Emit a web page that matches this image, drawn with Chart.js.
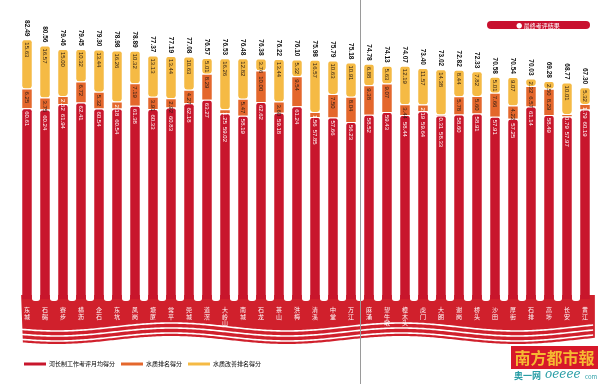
<!DOCTYPE html>
<html>
<head>
<meta charset="utf-8">
<script src="https://cdn.jsdelivr.net/npm/chart.js@4.4.0/dist/chart.umd.min.js"></script>
<style>
html, body { margin: 0; padding: 0; background: #fff; }
canvas { display: block; }
</style>
</head>
<body>
<canvas id="chart" width="600" height="384"></canvas>
<script>
// 镇街（从左到右，按最终得分排序）
const towns = ['东城','石碣','寮步','横沥','企石','东坑','凤岗','塘厦','常平','莞城','道滘','大岭山','南城','石龙','茶山','洪梅','清溪','中堂','万江',
               '麻涌','望牛墩','樟木头','虎门','大朗','谢岗','桥头','沙田','厚街','石排','高埗','长安','黄江'];

// 河长制工作考评月均得分（红）
const riverChief = [60.61,60.24,61.94,62.41,60.54,60.54,61.38,60.33,60.83,62.18,63.27,59.02,58.19,62.62,59.18,61.24,57.85,57.66,56.23,
                    58.52,59.43,58.44,59.64,58.33,58.60,58.91,57.91,57.25,61.14,58.49,57.97,60.19];
// 水质排名得分（橙）
const waterRank = [6.25,3.75,2.52,6.72,5.32,2.18,7.19,3.91,2.92,4.27,8.29,1.25,5.47,10.00,3.60,9.54,1.56,7.50,8.04,
                   9.38,9.07,3.44,2.19,0.31,5.78,5.60,7.66,4.22,6.57,8.29,0.79,1.79];
// 水质改善排名得分（黄）
const waterImprove = [15.63,16.57,15.00,10.32,13.44,16.26,10.32,13.13,13.44,10.63,5.01,16.26,12.82,3.76,13.44,5.32,16.57,10.63,10.91,
                      6.88,5.63,12.19,11.57,14.38,8.44,7.82,5.01,9.07,2.32,2.50,10.01,5.32];
// 最终考评结果
const totals = [82.49,80.56,79.46,79.45,79.30,78.98,78.89,77.37,77.19,77.08,76.57,76.53,76.48,76.38,76.22,76.10,75.98,75.79,75.18,
                74.78,74.13,74.07,73.40,73.02,72.82,72.33,70.58,70.54,70.03,69.28,68.77,67.30];

const seriesNames = ['河长制工作考评月均得分', '水质排名得分', '水质改善排名得分'];
const seriesColors = ['#c8162c', '#e4672c', '#f5ba44'];
const bandRed = '#d0202c';
const numFont = '"Liberation Sans Narrow", "Liberation Sans", Arial, sans-serif';
const cjkFont = '"Noto Sans CJK SC", "Noto Sans", sans-serif';

// 底部红色波浪带 + 柱间白色缺口
const bandPlugin = {
  id: 'band',
  beforeDraw(chart) {
    const ctx = chart.ctx;
    const bars = chart.getDatasetMeta(0).data;
    const x0 = bars[0].x - bars[0].width / 2 - 1;
    const x1 = bars[bars.length - 1].x + bars[0].width / 2 + 5;
    const top = chart.chartArea.bottom - 4;
    const wave = x => Math.sin((x - x0) / 230 * Math.PI * 2 + 0.6) * 4;
    ctx.save();
    ctx.fillStyle = bandRed;
    ctx.beginPath();
    ctx.moveTo(x0, top);
    ctx.lineTo(x1, top);
    for (let x = x1; x >= x0; x -= 2) ctx.lineTo(x, 340 + wave(x));
    ctx.closePath();
    ctx.fill();
    // 白色波浪线
    ctx.strokeStyle = '#fff';
    ctx.lineWidth = 1.6;
    [327, 332, 337].forEach(base => {
      ctx.beginPath();
      for (let x = x0; x <= x1; x += 2) {
        if (x === x0) ctx.moveTo(x, base + wave(x)); else ctx.lineTo(x, base + wave(x));
      }
      ctx.stroke();
    });
    // 柱与柱之间的圆角缺口
    ctx.fillStyle = '#fff';
    for (let i = 0; i < bars.length - 1; i++) {
      const l = bars[i].x + bars[i].width / 2;
      const r = bars[i + 1].x - bars[i + 1].width / 2;
      ctx.beginPath();
      ctx.roundRect(l, top - 4, r - l, 10, [0, 0, 3, 3]);
      ctx.fill();
    }
    ctx.restore();
  }
};

// 各段数值 + 总分
const valuePlugin = {
  id: 'values',
  afterDatasetsDraw(chart) {
    const ctx = chart.ctx;
    const n = towns.length;
    ctx.save();
    ctx.textAlign = 'left';
    ctx.textBaseline = 'middle';
    for (let i = 0; i < n; i++) {
      const redTop = chart.getDatasetMeta(0).data[i].y;
      let prevEnd = -Infinity;
      ctx.font = '6px ' + numFont;
      for (let d = 2; d >= 0; d--) {
        const bar = chart.getDatasetMeta(d).data[i];
        const txt = chart.data.datasets[d].data[i].toFixed(2);
        const w = ctx.measureText(txt).width;
        const y = Math.max(bar.y + 3, prevEnd + 3);
        ctx.fillStyle = (y + w / 2 > redTop) ? '#fff' : '#2a1c14';
        ctx.save();
        ctx.translate(bar.x, y);
        ctx.rotate(Math.PI / 2);
        ctx.fillText(txt, 0, 0.5);
        ctx.restore();
        prevEnd = y + w;
      }
      // 总分
      const topBar = chart.getDatasetMeta(2).data[i];
      ctx.font = 'bold 6.5px ' + numFont;
      const t = totals[i].toFixed(2);
      const tw = ctx.measureText(t).width;
      ctx.fillStyle = '#111';
      ctx.save();
      ctx.translate(topBar.x, topBar.y - 3 - tw);
      ctx.rotate(Math.PI / 2);
      ctx.fillText(t, 0, 0.5);
      ctx.restore();
    }
    ctx.restore();
  }
};

// 折页线、右上角标签、报头
const decorPlugin = {
  id: 'decor',
  afterDraw(chart) {
    const ctx = chart.ctx;
    ctx.save();
    ctx.strokeStyle = '#9a9a9a';
    ctx.lineWidth = 1;
    ctx.beginPath();
    ctx.moveTo(360.5, 0);
    ctx.lineTo(360.5, 384);
    ctx.stroke();

    ctx.fillStyle = '#c8102e';
    ctx.beginPath();
    ctx.roundRect(487, 21, 103, 8, 4);
    ctx.fill();
    ctx.fillStyle = '#fff';
    ctx.font = '6px ' + cjkFont;
    ctx.textAlign = 'center';
    ctx.textBaseline = 'middle';
    ctx.fillText('● 最终考评结果', 538, 25.5);

    ctx.fillStyle = '#d7182a';
    ctx.fillRect(511, 346, 87, 23);
    ctx.fillStyle = '#f6b932';
    ctx.font = 'bold 16px "Noto Sans CJK TC", "Noto Sans CJK SC", sans-serif';
    ctx.textAlign = 'center';
    ctx.fillText('南方都市報', 554.5, 358);

    ctx.fillStyle = '#2a9ea6';
    ctx.textAlign = 'left';
    ctx.font = 'bold 9px ' + cjkFont;
    ctx.fillText('奥一网', 514, 376);
    ctx.font = 'italic 12px "DejaVu Serif", serif';
    ctx.fillText('oeeee', 545, 375);
    ctx.font = '6px ' + cjkFont;
    ctx.fillText('com', 585, 377);
    ctx.restore();
  }
};

const ctx = document.getElementById('chart').getContext('2d');
const myChart = new Chart(ctx, {
  type: 'bar',
  data: {
    labels: towns.map(t => t.split('')),
    datasets: [riverChief, waterRank, waterImprove].map((vals, k) => ({
      label: seriesNames[k],
      data: vals,
      backgroundColor: seriesColors[k],
      borderColor: '#fff',
      borderWidth: k === 0 ? { top: 1 } : { top: 1, bottom: 0 },
      borderRadius: k === 0 ? { topLeft: 3, topRight: 3 } : 3,
      borderSkipped: false,
      barPercentage: 0.54,
      categoryPercentage: 1
    }))
  },
  options: {
    responsive: false,
    devicePixelRatio: 1,
    animation: false,
    layout: { padding: { left: 18, right: 6, top: 0, bottom: 7 } },
    scales: {
      x: {
        stacked: true,
        grid: { display: false, drawTicks: false },
        border: { display: false },
        afterFit: scale => { scale.height = 56; },
        ticks: {
          color: '#fff',
          padding: 8,
          autoSkip: false,
          maxRotation: 0,
          font: { family: cjkFont, size: 6, lineHeight: 1.05 }
        }
      },
      y: {
        stacked: true,
        display: false,
        min: 0,
        max: 95
      }
    },
    plugins: {
      tooltip: { enabled: false },
      legend: {
        position: 'bottom',
        align: 'start',
        labels: {
          boxWidth: 22,
          boxHeight: 3,
          padding: 6,
          color: '#333',
          useBorderRadius: true,
          borderRadius: 1.5,
          font: { family: cjkFont, size: 6 },
          generateLabels: c => c.data.datasets.map((ds, k) => ({
            text: ds.label,
            fillStyle: seriesColors[k],
            strokeStyle: seriesColors[k],
            lineWidth: 0,
            datasetIndex: k
          }))
        }
      }
    }
  },
  plugins: [bandPlugin, valuePlugin, decorPlugin]
});
</script>
</body>
</html>
